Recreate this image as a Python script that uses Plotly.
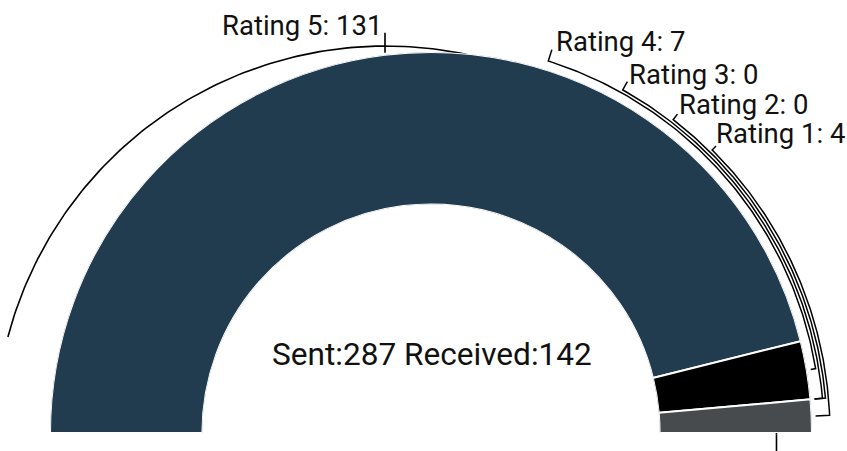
import numpy as np
import plotly.graph_objects as go

# ---------------- data ----------------
categories = ["Rating 5", "Rating 4", "Rating 3", "Rating 2", "Rating 1"]
values = [131, 7, 0, 0, 4]
slice_colors = ["#223C4F", "#000000", "#5B6770", "#8A959E", "#484B4E"]
sent_total = 287

# ---------------- layout constants ----------------
W, H = 847, 451
CX, CY = 431, 433          # pie centre in page pixels
R_OUT = 381                # outer radius (px)
HOLE = 0.6

# label anchors (left x, vertical middle y) relative to pie centre, in px
label_pos = {
    "Rating 5": (-211, 408),
    "Rating 4": (123, 392),
    "Rating 3": (196, 359),
    "Rating 2": (246, 329),
    "Rating 1": (283, 300),
}
# bracket geometry for the right-hand labels
bracket_label_angle = {"Rating 4": 72.5, "Rating 3": 60.8, "Rating 2": 52.3, "Rating 1": 45.2}
bracket_radius = {"Rating 4": 390, "Rating 3": 393, "Rating 2": 396, "Rating 1": 399}
bracket_tick_outer = {"Rating 4": 402, "Rating 3": 402.5, "Rating 2": 403, "Rating 1": 404.5}
TICK_INNER = 385
# bracket for the big slice (drawn partly beneath the donut)
B5_CENTER = (-45.3, -3.8)
B5_RADIUS = 390.8
B5_ANGLES = (165.2, 0.3)

# ---------------- derived angles ----------------
total = sum(values)
mids, widths = [], []
start = 180.0
for v in values:
    w = v / total * 180.0
    widths.append(w)
    mids.append(start - w / 2.0)
    start -= w
mid_of = dict(zip(categories, mids))

fig = go.Figure()

# ---------------- brackets (cartesian, px units centred on pie) ----------------
def pt(angle, r, c=(0.0, 0.0)):
    a = np.deg2rad(angle)
    return c[0] + r * np.cos(a), c[1] + r * np.sin(a)

# big slice bracket
th = np.linspace(B5_ANGLES[0], B5_ANGLES[1], 200)
bx = [pt(t, B5_RADIUS, B5_CENTER)[0] for t in th]
by = [pt(t, B5_RADIUS, B5_CENTER)[1] for t in th]
fig.add_trace(go.Scatter(x=bx, y=by, mode="lines", line=dict(color="#000", width=1.6),
                         hoverinfo="skip", showlegend=False))
# its label tick
t0 = pt(90.1, 384, B5_CENTER)
t1 = pt(90.1, 404, B5_CENTER)
fig.add_trace(go.Scatter(x=[t0[0], t1[0]], y=[t0[1], t1[1]], mode="lines",
                         line=dict(color="#000", width=1.6), hoverinfo="skip", showlegend=False))
# its end tick
e = pt(B5_ANGLES[1], B5_RADIUS, B5_CENTER)
fig.add_trace(go.Scatter(x=[e[0], e[0]], y=[e[1], -25], mode="lines",
                         line=dict(color="#000", width=1.6), hoverinfo="skip", showlegend=False))

for cat in ["Rating 4", "Rating 3", "Rating 2", "Rating 1"]:
    a0 = bracket_label_angle[cat]
    a1 = mid_of[cat]
    r = bracket_radius[cat]
    th = np.linspace(a0, a1, 120)
    xs = [pt(a0, bracket_tick_outer[cat])[0]] + [pt(t, r)[0] for t in th] + [pt(a1, TICK_INNER)[0]]
    ys = [pt(a0, bracket_tick_outer[cat])[1]] + [pt(t, r)[1] for t in th] + [pt(a1, TICK_INNER)[1]]
    fig.add_trace(go.Scatter(x=xs, y=ys, mode="lines", line=dict(color="#000", width=1.5),
                             hoverinfo="skip", showlegend=False))

# ---------------- donut slices (barpolar) ----------------
keep = [i for i, v in enumerate(values) if v > 0]
fig.add_trace(go.Barpolar(
    r=[1] * len(keep),
    theta=[mids[i] for i in keep],
    width=[widths[i] for i in keep],
    marker=dict(color=[slice_colors[i] for i in keep], line=dict(color="white", width=2)),
    text=[categories[i] for i in keep],
    hoverinfo="text",
    showlegend=False,
))

# ---------------- labels ----------------
annotations = []
for cat, v in zip(categories, values):
    x, y = label_pos[cat]
    annotations.append(dict(x=x, y=y, xref="x", yref="y", text=f"{cat}: {v}",
                            showarrow=False, xanchor="left", yanchor="middle",
                            font=dict(family="Roboto", size=27.5, color="#111")))
annotations.append(dict(x=1, y=79, xref="x", yref="y",
                        text=f"Sent:{sent_total} Received:{total}",
                        showarrow=False, xanchor="center", yanchor="middle",
                        font=dict(family="Roboto", size=31.6, color="#111")))

fig.update_layout(
    width=W, height=H,
    margin=dict(l=0, r=0, t=0, b=0),
    paper_bgcolor="white", plot_bgcolor="white",
    xaxis=dict(range=[-CX, W - CX], visible=False, fixedrange=True),
    yaxis=dict(range=[CY - H, CY], visible=False, fixedrange=True),
    polar=dict(
        domain=dict(x=[(CX - R_OUT) / W, (CX + R_OUT) / W],
                    y=[(H - CY) / H, (H - CY + R_OUT) / H]),
        sector=[0, 180], hole=HOLE, bgcolor="rgba(0,0,0,0)",
        radialaxis=dict(visible=False, range=[0, 1]),
        angularaxis=dict(visible=False, rotation=0, direction="counterclockwise"),
    ),
    annotations=annotations,
    showlegend=False,
)

fig.write_html("out.html", config={"displayModeBar": False},
               post_script="document.body.style.margin='0';document.body.style.overflow='hidden';")
